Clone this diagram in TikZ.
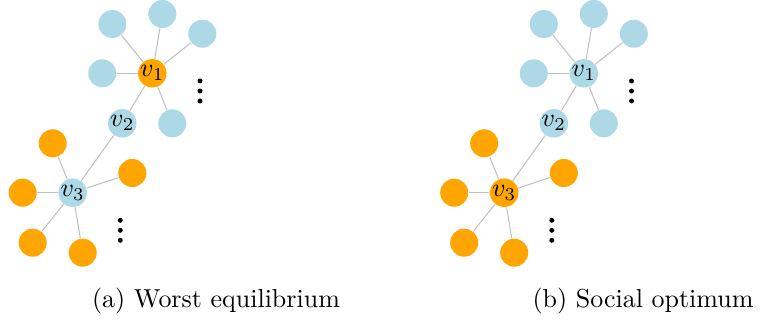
\documentclass[tikz,border=0pt]{standalone}
\usepackage{tikz}

\definecolor{leafblue}{RGB}{173,216,230}
\definecolor{leaforange}{RGB}{255,165,0}
\definecolor{edgegray}{RGB}{192,192,192}

\tikzset{
  vert/.style={circle, inner sep=0pt, minimum size=10.8pt, draw=none},
  bluevert/.style={vert, fill=leafblue},
  orangevert/.style={vert, fill=leaforange},
  vdot/.style={circle, fill=black, inner sep=0pt, minimum size=1.9pt},
  edge/.style={draw=edgegray, line width=0.4pt},
  capt/.style={anchor=base, inner sep=0pt, font=\normalsize}
}

% One star-of-stars graph: #1 name prefix, #2 style of v1, #3 style of v3
\newcommand{\drawpanel}[3]{%
  % hub v1 and its leaves
  \node[#2] (#1v1) at (152.3,73.3) {$v_1$};
  \node[bluevert] (#1b1) at (112.3,24) {};
  \node[bluevert] (#1b2) at (162.3,14) {};
  \node[bluevert] (#1b3) at (202.3,33.7) {};
  \node[bluevert] (#1b4) at (102.3,73.3) {};
  \node[bluevert] (#1b5) at (172.3,123.3) {};
  % middle vertex
  \node[bluevert] (#1v2) at (122.3,123.3) {$v_2$};
  % hub v3 and its leaves
  \node[#3] (#1v3) at (72.7,192.7) {$v_3$};
  \node[orangevert] (#1o1) at (52.7,143.3) {};
  \node[orangevert] (#1o2) at (22.7,192.7) {};
  \node[orangevert] (#1o3) at (132.3,173) {};
  \node[orangevert] (#1o4) at (32.7,242.7) {};
  \node[orangevert] (#1o5) at (82.7,252.7) {};
  % vertical ellipses
  \node[vdot] (#1da) at (200,81) {};
  \node[vdot] (#1db) at (200,91) {};
  \node[vdot] (#1dc) at (200,101) {};
  \node[vdot] (#1dd) at (120.3,220.3) {};
  \node[vdot] (#1de) at (120.3,230.3) {};
  \node[vdot] (#1df) at (120.3,240.3) {};
  % edges
  \foreach \l in {b1,b2,b3,b4,b5} \path[edge] (#1v1) -- (#1\l);
  \path[edge] (#1v1) -- (#1v2);
  \path[edge] (#1v2) -- (#1v3);
  \foreach \l in {o1,o2,o3,o4,o5} \path[edge] (#1v3) -- (#1\l);
}

\begin{document}
\begin{tikzpicture}[x=0.385pt, y=-0.385pt]
  \useasboundingbox (0,0) rectangle (763,320);

  \drawpanel{a}{orangevert}{bluevert}
  \begin{scope}[shift={(431.5,0)}]
    \drawpanel{b}{bluevert}{orangevert}
  \end{scope}

  \node[capt] (capa) at (216,307) {(a) Worst equilibrium};
  \node[capt] (capb) at (643,307) {(b) Social optimum};
\end{tikzpicture}
\end{document}
